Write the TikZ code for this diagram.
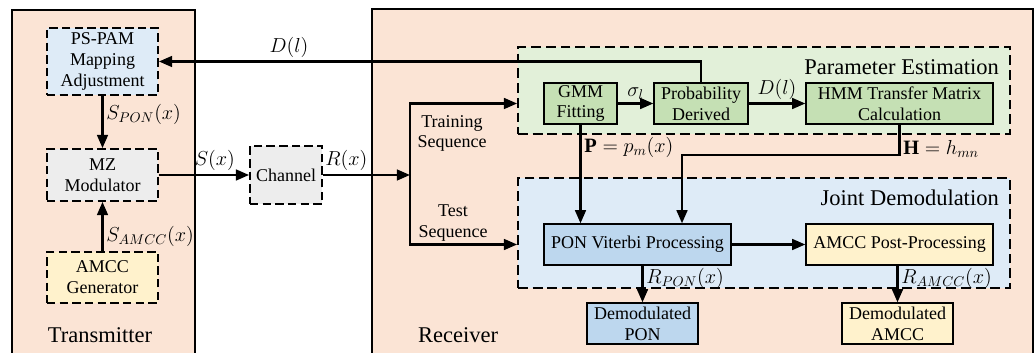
\documentclass[tikz,border=0pt]{standalone}
\usepackage{fontspec}
\setmainfont{LiberationSerif}[Extension=.ttf, UprightFont=*-Regular,
  BoldFont=*-Bold, ItalicFont=*-Italic, BoldItalicFont=*-BoldItalic]
\usepackage{amsmath}
\usepackage{tikz}
\usetikzlibrary{arrows.meta, positioning, calc}
\definecolor{sidecolor}{RGB}{251,228,213}
\definecolor{pamcolor}{RGB}{222,235,247}
\definecolor{mzcolor}{RGB}{237,237,237}
\definecolor{amcccolor}{RGB}{255,242,204}
\definecolor{estcolor}{RGB}{226,240,217}
\definecolor{fitcolor}{RGB}{197,224,180}
\definecolor{demodcolor}{RGB}{222,235,247}
\definecolor{poncolor}{RGB}{189,215,238}
\newcommand{\blockfont}{\fontsize{12.8}{14.8}\selectfont}
\newcommand{\titlefont}{\fontsize{16}{19}\selectfont}
\newcommand{\sigfont}{\fontsize{14.5}{17}\selectfont}
\tikzset{
  side/.style={draw, line width=1.5pt, fill=sidecolor},
  group/.style={draw, line width=1.2pt, dash pattern=on 7pt off 3.5pt, fill=#1},
  dblock/.style={draw, line width=1.3pt, dash pattern=on 6pt off 3pt,
                 fill=#1, align=center, inner sep=1pt},
  dblock/.default=mzcolor,
  sblock/.style={draw, line width=0.95pt, fill=#1, align=center, inner sep=1pt},
  sblock/.default=fitcolor,
  arrow/.style={-{Triangle[length=3.3mm, width=2.7mm]}, line width=1.6pt},
  sig/.style={font=\sigfont, inner sep=2pt},
  note/.style={align=center, inner sep=0pt},
  title/.style={font=\titlefont, inner sep=0pt},
}

\begin{document}
\begin{tikzpicture}[x=0.025cm, y=-0.025cm, font=\blockfont]

  \useasboundingbox (0,0) rectangle (1036,353);
  \clip (0,0) rectangle (1036,353);

  % Transmitter and receiver sides
  \node[side, minimum width=4.575cm, minimum height=8.75cm]
    (tx) at (103.5,185) {};
  \node[side, minimum width=16.525cm, minimum height=8.775cm]
    (rx) at (702.5,184.5) {};
  \node[title] (txname) at (100,335) {Transmitter};
  \node[title] (rxname) at (458,335) {Receiver};

  % Receiver groups
  \node[group=estcolor, minimum width=12.3cm, minimum height=2.175cm]
    (estim) at (764,90.5) {};
  \node[title, anchor=east] (estname) at (999,67) {Parameter Estimation};
  \node[group=demodcolor, minimum width=12.3cm, minimum height=2.75cm]
    (demod) at (764,233) {};
  \node[title, anchor=east] (demodname) at (999,198) {Joint Demodulation};

  % Transmitter blocks
  \node[dblock=pamcolor, minimum width=2.775cm, minimum height=1.675cm]
    (pspam) at (102.5,61.5) {PS-PAM\\Mapping\\Adjustment};
  \node[dblock, minimum width=2.775cm, minimum height=1.3cm]
    (mzmod) at (102.5,175) {MZ\\Modulator};
  \node[dblock=amcccolor, minimum width=2.775cm, minimum height=1.275cm]
    (amccgen) at (102.5,277.5) {AMCC\\Generator};

  \node[dblock, minimum width=1.8cm, minimum height=1.45cm]
    (channel) at (286,175) {Channel};

  % Estimation blocks
  \node[sblock, minimum width=1.825cm, minimum height=1.025cm]
    (gmm) at (580.5,103.5) {GMM\\Fitting};
  \node[sblock, minimum width=2.35cm, minimum height=1.025cm]
    (prob) at (701,103.5) {Probability\\Derived};
  \node[sblock, minimum width=4.675cm, minimum height=1.025cm]
    (hmm) at (899.5,103.5) {HMM Transfer Matrix\\Calculation};

  % Demodulation blocks
  \node[sblock=poncolor, minimum width=4.675cm, minimum height=1.025cm]
    (viterbi) at (637.5,244.5) {PON Viterbi Processing};
  \node[sblock=amcccolor, minimum width=4.675cm, minimum height=1.025cm]
    (amccpost) at (899.5,244.5) {AMCC Post-Processing};
  \node[sblock=poncolor, minimum width=2.775cm, minimum height=1.025cm]
    (outpon) at (642.5,323.5) {Demodulated\\PON};
  \node[sblock=amcccolor, minimum width=2.775cm, minimum height=1.025cm]
    (outamcc) at (897.5,323.5) {Demodulated\\AMCC};

  \node[note] (train) at (452,133.5) {Training\\Sequence};
  \node[note] (test) at (453,223) {Test\\Sequence};

  % Transmitter side
  \draw[arrow] (pspam) -- node[sig, right, pos=0.35] {$S_{PON}(x)$} (mzmod);
  \draw[arrow] (amccgen) -- node[sig, right, pos=0.3] {$S_{AMCC}(x)$} (mzmod);
  \draw[arrow] (mzmod) -- node[sig, above, pos=0.62] {$S(x)$} (channel);

  % Split into training and test
  \coordinate (split) at (410,175);
  \draw[arrow] (channel) -- node[sig, above, pos=0.27] {$R(x)$} (split);
  \draw[arrow] (split) |- (gmm -| estim.west);
  \draw[arrow] (split) |- (viterbi -| demod.west);

  % Estimation chain and feedback
  \draw[arrow] (gmm) -- node[sig, above] {$\sigma_l$} (prob);
  \draw[arrow] (prob) -- node[sig, above] {$D(l)$} (hmm);
  \draw[arrow] (prob.north) |- node[sig, above, pos=0.88] {$D(l)$} (pspam.east);

  \draw[arrow] (gmm) -- node[sig, right, pos=0.23] {$\mathbf{P}=p_m(x)$}
    (gmm |- viterbi.north);
  \coordinate (hturn) at (682,155);
  \draw[arrow] (hmm) |- node[sig, right, pos=0.4] {$\mathbf{H}=h_{mn}$} (hturn)
    -- (hturn |- viterbi.north);

  % Demodulation outputs
  \draw[arrow] (viterbi) -- (amccpost);
  \draw[arrow] (outpon.north |- viterbi.south) --
    node[sig, right, pos=0.34] {$R_{PON}(x)$} (outpon);
  \draw[arrow] (outamcc.north |- amccpost.south) --
    node[sig, right, pos=0.34] {$R_{AMCC}(x)$} (outamcc);

\end{tikzpicture}
\end{document}
